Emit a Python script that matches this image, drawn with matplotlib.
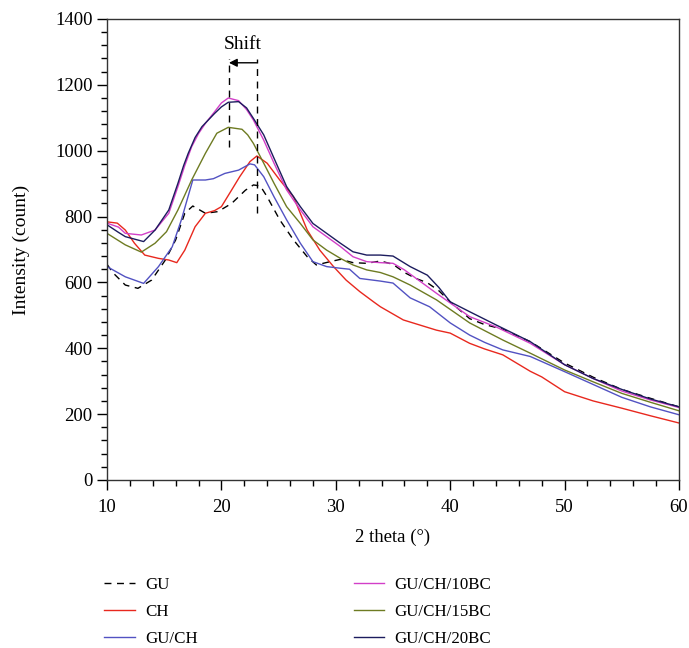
import matplotlib
matplotlib.use("Agg")
import matplotlib.pyplot as plt
import numpy as np

plt.rcParams['font.family'] = ['Liberation Serif', 'DejaVu Serif']

labels = ["GU", "CH", "GU/CH", "GU/CH/10BC", "GU/CH/15BC", "GU/CH/20BC"]

gu_x = [10, 10.5, 11.6, 12.7, 13.9, 15.1, 16, 16.8, 17.5, 18.6, 19.7, 20.9, 22.1, 22.8, 23.4, 24,
        25.1, 26.3, 27.5, 28.3, 29.5, 30.4, 31.5, 32.7, 33.9, 35, 36, 37, 38, 39, 40, 41.7, 43,
        44.6, 47, 50, 52.5, 55, 57.5, 60]
gu_y = [655, 630, 592, 582, 607, 668, 729, 810, 832, 810, 815, 840, 880, 896, 893, 860,
        790, 729, 678, 653, 663, 670, 660, 658, 665, 655, 630, 612, 599, 575, 541, 490, 472,
        458, 420, 355, 312, 275, 248, 222]

ch_x = [10, 10.9, 11.6, 12.4, 13.3, 14.5, 15.4, 16.1, 16.8, 17.7, 18.6, 19.4, 20, 20.9, 21.6,
        22.5, 23.1, 24, 25.1, 26.3, 27.5, 28.6, 29.8, 30.9, 32.1, 33.3, 33.9, 35.9, 38.8, 40,
        41.7, 43, 44.6, 47, 48, 50, 52.5, 55, 57.5, 60]
ch_y = [784, 780, 759, 719, 683, 673, 668, 660, 698, 769, 810, 818, 830, 881, 921,
        967, 984, 962, 911, 860, 759, 698, 648, 607, 572, 541, 526, 486, 455, 446,
        415, 398, 380, 330, 313, 268, 240, 218, 195, 173]

guch_x = [10, 11.6, 13.2, 14.5, 15.7, 16.5, 17.5, 18.6, 19.3, 20.3, 21.5, 22.5, 22.9, 23.7,
          24.6, 25.7, 26.9, 28, 29.2, 30.4, 31.2, 32.1, 33.9, 35, 36.5, 38.2, 40, 41.7, 43,
          44.6, 47, 50, 52.5, 55, 57.5, 60]
guch_y = [648, 617, 597, 648, 708, 790, 911, 911, 915, 931, 941, 960, 957, 921,
          860, 790, 719, 663, 648, 643, 640, 612, 604, 598, 553, 526, 477, 440, 418,
          395, 375, 329, 290, 251, 222, 198]

bc10_x = [10, 11, 11.6, 13, 14.2, 15.4, 16.2, 16.8, 17.4, 18.0, 18.6, 19.4, 20.0, 20.6, 21.5,
          22.2, 22.8, 23.7, 24.6, 25.7, 26.9, 28, 29.2, 30.4, 31.5, 32.7, 33.9, 35, 36, 38.8,
          41.7, 44, 47, 50, 52.5, 55, 57.5, 60]
bc10_y = [780, 768, 749, 744, 759, 810, 891, 955, 1012, 1052, 1083, 1118, 1145, 1160, 1152,
          1125, 1093, 1032, 962, 881, 820, 769, 739, 709, 678, 663, 660, 658, 638, 567,
          496, 465, 415, 350, 308, 270, 243, 220]

bc15_x = [10, 11.6, 13, 14.2, 15.2, 16.2, 17.4, 18.6, 19.6, 20.6, 21.8, 22.3, 22.8, 23.7, 24.6,
          25.7, 26.9, 28, 29.2, 30.4, 31.5, 32.7, 33.9, 35, 36.5, 38.8, 41.7, 44.6, 47, 50,
          52.5, 55, 57.5, 60]
bc15_y = [749, 714, 692, 719, 754, 820, 911, 992, 1053, 1071, 1065, 1048, 1022, 962, 901,
          830, 779, 729, 698, 673, 653, 638, 630, 617, 592, 547, 477, 425, 385, 334,
          298, 263, 236, 210]

bc20_x = [10, 11, 11.6, 13.2, 14.2, 15.4, 16.2, 16.7, 17.1, 17.7, 18.3, 19.4, 20.0, 20.6, 21.5,
          22.2, 22.8, 23.7, 24.6, 25.7, 26.9, 28, 29.2, 30.4, 31.5, 32.7, 33.9, 35, 36.5, 38,
          39, 40, 41.7, 44, 47, 50, 52.5, 55, 57.5, 60]
bc20_y = [775, 752, 739, 724, 759, 820, 901, 955, 992, 1040, 1073, 1113, 1133, 1147, 1149,
          1130, 1098, 1048, 977, 891, 830, 779, 749, 719, 693, 683, 683, 680, 648, 622,
          585, 541, 511, 471, 420, 350, 308, 275, 246, 222]

colors = ["black", "#e8281e", "#5252c2", "#d23fc8", "#6e7b22", "#1c1c5e"]
styles = [(0, (5, 4)), "-", "-", "-", "-", "-"]

fig = plt.figure(figsize=(6.89, 6.48), dpi=100)
ax = fig.add_axes([0.1553, 0.2593, 0.8302, 0.7114])

series = [(gu_x, gu_y), (ch_x, ch_y), (guch_x, guch_y), (bc10_x, bc10_y), (bc15_x, bc15_y), (bc20_x, bc20_y)]
handles = []
for (xs, ys), c, ls, lab in zip(series, colors, styles, labels):
    h, = ax.plot(xs, ys, color=c, linestyle=ls, linewidth=1.0, label=lab)
    handles.append(h)

# Shift annotation
ax.plot([20.66, 20.66], [1012, 1278], color="black", linestyle=(0, (5, 4)), linewidth=1.0)
ax.plot([23.08, 23.08], [812, 1278], color="black", linestyle=(0, (5, 4)), linewidth=1.0)
ax.annotate("", xy=(20.66, 1267), xytext=(23.08, 1267),
            arrowprops=dict(arrowstyle="-|>", color="black", lw=1.0, mutation_scale=12,
                            shrinkA=0, shrinkB=0))
ax.text(21.9, 1298, "Shift", ha="center", va="bottom", fontsize=14)

ax.set_xlim(10, 60)
ax.set_ylim(0, 1400)
ax.set_xticks([10, 20, 30, 40, 50, 60])
ax.set_yticks([0, 200, 400, 600, 800, 1000, 1200, 1400])
ax.set_xticks(np.arange(10, 61, 2), minor=True)
ax.set_yticks(np.arange(0, 1401, 40), minor=True)
ax.tick_params(which="major", direction="out", length=7, width=1.0, labelsize=13.5)
ax.tick_params(which="minor", direction="out", length=4, width=1.0)
ax.tick_params(axis="x", pad=7)
for s in ax.spines.values():
    s.set_linewidth(1.0)
    s.set_color("#333333")

ax.set_xlabel("2 theta (°)", fontsize=13.5, labelpad=9)
ax.set_ylabel("Intensity (count)", fontsize=14, labelpad=18)

fig.legend(handles=handles, loc="upper left", bbox_to_anchor=(0.129, 0.133), ncol=2,
           frameon=False, fontsize=12.2, handlelength=1.8, columnspacing=9.2,
           labelspacing=0.65, handletextpad=0.62)

fig.savefig("out.png", dpi=100)
